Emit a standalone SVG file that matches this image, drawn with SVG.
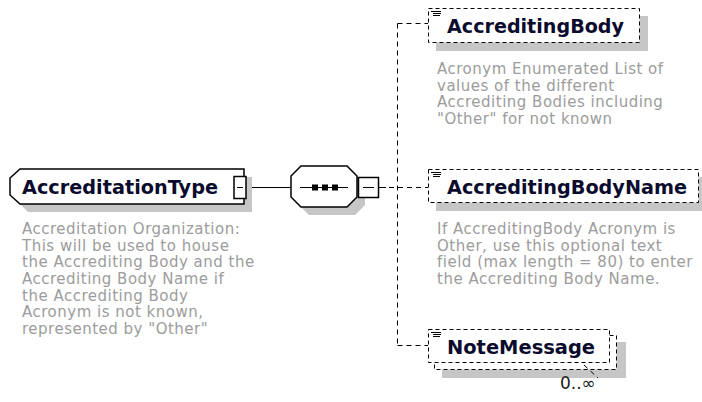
<svg xmlns="http://www.w3.org/2000/svg" width="702" height="402" viewBox="0 0 702 402">
<style>
.bg{fill:#ffffff}
.name{font-family:"DejaVu Sans",sans-serif;font-weight:bold;font-size:19px;fill:#0b0b2e}
.desc{font-family:"DejaVu Sans",sans-serif;font-size:15px;letter-spacing:0.5px;fill:#9c9c9c}
.occ{font-family:"DejaVu Sans",sans-serif;font-size:17px;fill:#202020}
.shadow{fill:#c6c6c6;stroke:none}
.solid{fill:#ffffff;stroke:#000000;stroke-width:1.5}
.dbox{fill:#ffffff;stroke:#000000;stroke-width:1;stroke-dasharray:4 3}
.conn{fill:none;stroke:#000000;stroke-width:1}
.dconn{fill:none;stroke:#000000;stroke-width:1;stroke-dasharray:5 4}
.icon{stroke:#000000;stroke-width:1}
</style>
<rect class="bg" x="0" y="0" width="702" height="402"/>

<g id="connectors">
  <line class="conn" x1="246" y1="187.5" x2="291" y2="187.5"/>
  <line class="conn" x1="378.5" y1="187.5" x2="386" y2="187.5"/>
  <line class="dconn" x1="389" y1="187.5" x2="428" y2="187.5"/>
  <line class="dconn" x1="397.5" y1="23.5" x2="397.5" y2="345.5"/>
  <line class="dconn" x1="397.5" y1="23.5" x2="428" y2="23.5"/>
  <line class="dconn" x1="397.5" y1="345.5" x2="428" y2="345.5"/>
</g>

<g id="AccreditationType">
  <polygon class="shadow" points="28,177 252,177 252,212 28,212 18,202 18,187"/>
  <polygon class="solid" points="20,169 244,169 244,204 20,204 10,195 10,178"/>
  <text class="name" x="22" y="193.5" textLength="196" lengthAdjust="spacingAndGlyphs">AccreditationType</text>
  <rect class="solid" x="234" y="176.5" width="12" height="22" stroke-width="1.3"/>
  <line class="icon" x1="237" y1="187.5" x2="243" y2="187.5"/>
  <text class="desc">
    <tspan x="22" y="234">Accreditation Organization:</tspan>
    <tspan x="22" y="250.7">This will be used to house</tspan>
    <tspan x="22" y="267.3">the Accrediting Body and the</tspan>
    <tspan x="22" y="284">Accrediting Body Name if</tspan>
    <tspan x="22" y="300.7">the Accrediting Body</tspan>
    <tspan x="22" y="317.3">Acronym is not known,</tspan>
    <tspan x="22" y="334">represented by "Other"</tspan>
  </text>
</g>

<g id="sequence">
  <polygon class="shadow" points="309,174 355,174 365,184 365,205 355,215 309,215 299,205 299,184"/>
  <polygon class="solid" points="301,166 347,166 357,176 357,197 347,207 301,207 291,197 291,176" stroke-width="1.3"/>
  <line class="icon" x1="300" y1="187.5" x2="348" y2="187.5"/>
  <rect x="312" y="184.5" width="6" height="6" fill="#000"/>
  <rect x="322" y="184.5" width="6" height="6" fill="#000"/>
  <rect x="332" y="184.5" width="6" height="6" fill="#000"/>
  <rect class="solid" x="358.5" y="177.5" width="20" height="20" stroke-width="1.3"/>
  <line class="icon" x1="363" y1="187.5" x2="374" y2="187.5"/>
</g>

<g id="AccreditingBody">
  <rect class="shadow" x="436" y="16" width="212" height="35"/>
  <rect class="dbox" x="428.5" y="8.5" width="211" height="34"/>
  <line class="icon" x1="431" y1="11.5" x2="441" y2="11.5"/>
  <line class="icon" x1="433" y1="13.5" x2="441" y2="13.5"/>
  <line class="icon" x1="433" y1="15.5" x2="440" y2="15.5"/>
  <text class="name" x="447" y="33" textLength="177" lengthAdjust="spacingAndGlyphs">AccreditingBody</text>
  <text class="desc">
    <tspan x="437" y="74">Acronym Enumerated List of</tspan>
    <tspan x="437" y="90.7">values of the different</tspan>
    <tspan x="437" y="107.3">Accrediting Bodies including</tspan>
    <tspan x="437" y="124">"Other" for not known</tspan>
  </text>
</g>

<g id="AccreditingBodyName">
  <rect class="shadow" x="436" y="177" width="271" height="34"/>
  <rect class="dbox" x="428.5" y="169.5" width="270" height="33"/>
  <line class="icon" x1="431" y1="172.5" x2="441" y2="172.5"/>
  <line class="icon" x1="433" y1="174.5" x2="441" y2="174.5"/>
  <line class="icon" x1="433" y1="176.5" x2="440" y2="176.5"/>
  <text class="name" x="447" y="193.5" textLength="240" lengthAdjust="spacingAndGlyphs">AccreditingBodyName</text>
  <text class="desc">
    <tspan x="437" y="234">If AccreditingBody Acronym is</tspan>
    <tspan x="437" y="250.7">Other, use this optional text</tspan>
    <tspan x="437" y="267.3">field (max length = 80) to enter</tspan>
    <tspan x="437" y="284">the Accrediting Body Name.</tspan>
  </text>
</g>

<g id="NoteMessage">
  <rect class="shadow" x="442" y="342" width="184" height="36"/>
  <rect class="dbox" x="434.5" y="335.5" width="182" height="34"/>
  <rect class="dbox" x="428.5" y="329.5" width="181" height="33"/>
  <line class="icon" x1="431" y1="332.5" x2="441" y2="332.5"/>
  <line class="icon" x1="433" y1="334.5" x2="441" y2="334.5"/>
  <line class="icon" x1="433" y1="336.5" x2="440" y2="336.5"/>
  <text class="name" x="447" y="354" textLength="148" lengthAdjust="spacingAndGlyphs">NoteMessage</text>
  <line class="dconn" x1="584" y1="365" x2="598" y2="378" stroke-dasharray="3 2"/>
  <text class="occ" x="560" y="389">0..∞</text>
</g>
</svg>
